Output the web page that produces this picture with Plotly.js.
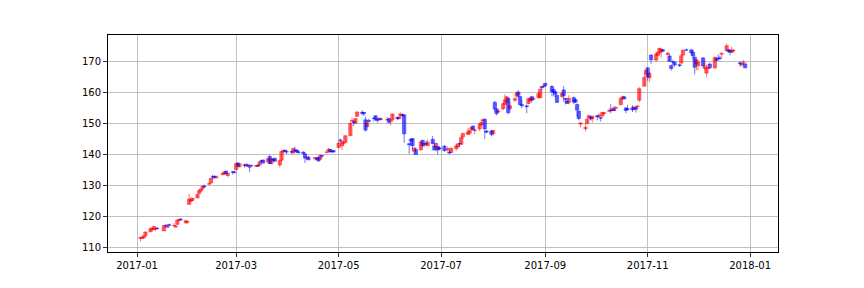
<!DOCTYPE html>
<html><head><meta charset="utf-8">
<script src="https://cdn.plot.ly/plotly-3.0.1.min.js"></script>
<style>html,body{margin:0;padding:0;background:#fff}</style>
</head><body><div id="chart" style="width:864px;height:288px"></div>
<script>
const dates = [
'2017-01-03','2017-01-04','2017-01-05','2017-01-06','2017-01-09','2017-01-10','2017-01-11','2017-01-12','2017-01-13','2017-01-17','2017-01-18','2017-01-19','2017-01-20','2017-01-23','2017-01-24','2017-01-25','2017-01-26','2017-01-27','2017-01-30','2017-01-31',
'2017-02-01','2017-02-02','2017-02-03','2017-02-06','2017-02-07','2017-02-08','2017-02-09','2017-02-10','2017-02-13','2017-02-14','2017-02-15','2017-02-16','2017-02-17','2017-02-21','2017-02-22','2017-02-23','2017-02-24','2017-02-27','2017-02-28',
'2017-03-01','2017-03-02','2017-03-03','2017-03-06','2017-03-07','2017-03-08','2017-03-09','2017-03-10','2017-03-13','2017-03-14','2017-03-15','2017-03-16','2017-03-17','2017-03-20','2017-03-21','2017-03-22','2017-03-23','2017-03-24','2017-03-27','2017-03-28','2017-03-29','2017-03-30','2017-03-31',
'2017-04-03','2017-04-04','2017-04-05','2017-04-06','2017-04-07','2017-04-10','2017-04-11','2017-04-12','2017-04-13','2017-04-17','2017-04-18','2017-04-19','2017-04-20','2017-04-21','2017-04-24','2017-04-25','2017-04-26','2017-04-27','2017-04-28',
'2017-05-01','2017-05-02','2017-05-03','2017-05-04','2017-05-05','2017-05-08','2017-05-09','2017-05-10','2017-05-11','2017-05-12','2017-05-15','2017-05-16','2017-05-17','2017-05-18','2017-05-19','2017-05-22','2017-05-23','2017-05-24','2017-05-25','2017-05-26','2017-05-30','2017-05-31',
'2017-06-01','2017-06-02','2017-06-05','2017-06-06','2017-06-07','2017-06-08','2017-06-09','2017-06-12','2017-06-13','2017-06-14','2017-06-15','2017-06-16','2017-06-19','2017-06-20','2017-06-21','2017-06-22','2017-06-23','2017-06-26','2017-06-27','2017-06-28','2017-06-29','2017-06-30',
'2017-07-03','2017-07-05','2017-07-06','2017-07-07','2017-07-10','2017-07-11','2017-07-12','2017-07-13','2017-07-14','2017-07-17','2017-07-18','2017-07-19','2017-07-20','2017-07-21','2017-07-24','2017-07-25','2017-07-26','2017-07-27','2017-07-28','2017-07-31',
'2017-08-01','2017-08-02','2017-08-03','2017-08-04','2017-08-07','2017-08-08','2017-08-09','2017-08-10','2017-08-11','2017-08-14','2017-08-15','2017-08-16','2017-08-17','2017-08-18','2017-08-21','2017-08-22','2017-08-23','2017-08-24','2017-08-25','2017-08-28','2017-08-29','2017-08-30','2017-08-31',
'2017-09-01','2017-09-05','2017-09-06','2017-09-07','2017-09-08','2017-09-11','2017-09-12','2017-09-13','2017-09-14','2017-09-15','2017-09-18','2017-09-19','2017-09-20','2017-09-21','2017-09-22','2017-09-25','2017-09-26','2017-09-27','2017-09-28','2017-09-29',
'2017-10-02','2017-10-03','2017-10-04','2017-10-05','2017-10-06','2017-10-09','2017-10-10','2017-10-11','2017-10-12','2017-10-13','2017-10-16','2017-10-17','2017-10-18','2017-10-19','2017-10-20','2017-10-23','2017-10-24','2017-10-25','2017-10-26','2017-10-27','2017-10-30','2017-10-31',
'2017-11-01','2017-11-02','2017-11-03','2017-11-06','2017-11-07','2017-11-08','2017-11-09','2017-11-10','2017-11-13','2017-11-14','2017-11-15','2017-11-16','2017-11-17','2017-11-20','2017-11-21','2017-11-22','2017-11-24','2017-11-27','2017-11-28','2017-11-29','2017-11-30',
'2017-12-01','2017-12-04','2017-12-05','2017-12-06','2017-12-07','2017-12-08','2017-12-11','2017-12-12','2017-12-13','2017-12-14','2017-12-15','2017-12-18','2017-12-19','2017-12-20','2017-12-21','2017-12-22','2017-12-26','2017-12-27','2017-12-28','2017-12-29'
];
const openP = [
113.1,113.1,113.2,114.0,115.2,116.0,115.9,116.1,116.3,115.5,117.2,116.6,117.6,117.15,116.7,117.6,118.8,119.3,118.1,118.3,
124.0,125.0,125.3,126.1,127.5,128.3,129.1,129.9,130.5,130.9,132.9,133.0,132.5,133.6,133.8,134.7,133.3,134.5,134.4,
135.2,137.3,136.1,136.7,136.4,136.7,136.05,136.6,136.2,136.6,136.7,138.0,138.3,137.7,139.4,137.1,138.5,138.8,136.7,138.2,140.9,141.4,140.95,
140.92,140.5,141.4,141.5,140.9,140.8,140.2,138.9,139.2,138.7,138.7,139.1,138.5,139.7,140.7,141.1,141.7,141.1,141.3,
142.3,144.7,142.8,143.65,143.9,146.1,150.9,150.6,150.1,152.3,153.6,153.6,151.2,149.0,151.0,151.65,152.5,151.5,151.4,151.6,151.1,151.6,
150.8,151.2,152.0,151.5,152.6,152.9,152.8,143.5,144.9,145.2,141.1,141.6,141.5,144.6,143.3,143.5,142.9,144.9,142.8,142.3,142.5,142.2,
142.7,141.5,140.8,140.7,141.9,142.5,143.6,143.3,145.7,146.5,146.9,148.2,149.2,147.7,148.3,149.5,151.0,151.4,147.6,147.6,
146.8,156.8,154.6,153.7,154.7,156.2,156.8,158.1,154.8,157.5,158.8,160.1,158.7,156.1,155.7,156.4,157.3,158.6,157.8,158.3,158.3,161.9,161.8,
162.9,161.9,160.9,160.2,159.0,158.7,160.8,158.1,157.2,156.7,158.3,157.7,156.1,154.0,149.8,148.3,150.0,152.0,152.1,151.5,
152.5,152.3,151.9,152.4,153.2,154.0,154.3,154.2,154.6,154.9,156.1,158.0,158.6,155.0,154.8,155.1,154.5,155.1,155.4,157.5,162.0,166.0,
167.9,164.7,172.0,170.4,171.9,172.7,173.1,173.7,172.1,171.7,168.6,169.85,169.7,168.9,169.4,172.0,173.7,173.7,172.9,171.3,169.1,
168.6,171.1,167.7,166.2,167.7,169.1,167.9,170.8,171.1,171.0,172.3,173.5,173.6,173.5,172.8,173.3,169.5,168.8,169.6,169.2
];
const highP = [
113.6,113.8,114.1,115.4,116.6,116.6,117.1,116.5,116.8,117.4,117.7,117.3,117.6,118.0,117.3,119.2,119.5,119.5,118.8,118.5,
127.4,126.3,126.1,127.4,129.0,129.1,129.9,130.4,131.2,132.5,133.6,133.3,133.2,134.1,134.5,134.8,134.0,134.8,134.8,
137.4,137.6,137.1,137.1,137.3,137.1,136.1,136.7,136.7,136.9,138.0,138.3,138.3,138.8,140.0,138.9,138.8,139.0,138.5,141.2,141.7,141.7,141.5,
141.3,142.1,142.6,141.7,141.4,141.1,140.6,139.4,139.6,139.1,139.3,139.2,140.1,139.9,141.2,142.1,141.8,141.4,141.5,
144.3,145.2,144.6,144.3,146.1,150.7,151.9,151.0,151.7,154.0,154.3,153.7,152.2,151.0,151.6,152.2,152.5,151.8,152.0,151.9,152.1,151.8,
151.0,153.1,152.1,153.4,153.6,153.2,152.8,143.9,145.2,145.2,142.3,142.3,144.5,144.6,143.8,144.5,144.9,146.0,143.9,143.9,142.9,142.7,
143.1,142.6,141.3,142.5,143.7,143.6,143.9,146.2,147.0,148.6,147.8,149.1,149.4,148.1,150.1,151.5,151.6,151.6,147.9,148.0,
147.9,157.3,154.8,155.0,156.5,159.4,158.8,158.2,156.8,158.4,160.4,160.7,158.9,157.7,156.1,158.2,158.6,158.9,158.7,160.2,161.3,162.0,162.6,
163.1,162.4,161.1,160.4,159.3,160.2,162.1,158.1,157.6,159.1,158.7,157.9,156.5,154.0,150.5,150.1,152.2,153.0,152.5,152.4,
152.7,153.3,152.1,153.7,153.7,154.9,156.2,155.2,155.6,155.5,158.2,159.0,158.9,155.3,156.0,155.9,155.6,155.8,156.0,161.7,166.2,167.7,
168.0,166.6,172.3,173.0,173.2,174.2,174.1,174.0,173.1,172.1,169.0,170.5,170.0,169.2,172.3,173.6,174.1,173.7,173.5,171.6,170.8,
170.3,171.3,170.2,168.9,169.1,169.6,171.5,171.0,172.2,171.8,172.8,175.8,174.0,174.0,174.6,174.0,170.1,169.4,170.5,169.2
];
const lowP = [
112.1,113.0,113.1,113.7,115.2,115.5,115.8,115.4,116.0,115.4,116.9,116.6,116.9,116.9,116.7,117.4,118.7,118.7,117.8,117.8,
124.0,124.8,125.1,125.9,127.4,128.1,128.6,129.5,130.2,130.7,132.0,132.2,132.5,133.3,133.5,133.7,132.7,133.6,134.0,
134.9,136.1,135.9,135.9,136.1,136.1,134.4,136.0,136.1,136.1,136.3,137.5,137.2,137.5,137.0,137.0,137.9,137.6,135.9,137.9,140.4,140.7,140.2,
140.3,140.4,141.0,140.7,140.5,140.1,137.3,138.3,138.3,138.1,138.4,137.7,138.4,139.1,140.4,141.1,140.6,140.5,140.5,
142.1,144.0,141.5,143.0,143.9,146.1,150.5,149.2,150.0,152.3,152.7,152.4,147.4,148.8,150.3,150.6,151.0,150.3,150.7,151.0,151.0,150.0,
149.4,150.6,151.1,151.4,152.1,152.0,143.8,140.3,142.9,141.6,140.0,140.0,141.5,142.7,142.4,142.9,142.9,143.2,141.4,141.0,140.1,141.6,
140.9,140.5,140.2,140.7,141.2,142.2,142.6,143.2,145.1,146.3,146.4,147.7,147.9,146.6,147.6,149.5,150.7,145.0,146.9,145.9,
146.1,153.8,152.6,153.3,154.3,155.9,156.7,152.9,154.3,156.9,158.3,158.3,156.0,154.9,153.3,156.2,157.1,156.7,157.5,158.1,158.2,160.8,161.6,
161.8,158.7,158.7,158.5,156.7,158.1,157.0,156.1,156.3,156.2,156.2,156.6,152.1,151.0,148.8,147.5,150.0,151.8,151.0,150.3,
151.0,152.2,150.7,152.3,152.8,153.7,153.3,154.0,154.0,154.6,155.9,157.4,157.8,153.3,154.2,153.7,154.4,153.5,155.0,156.9,161.9,165.0,
163.7,163.4,169.2,169.8,171.6,172.3,171.2,172.9,172.0,169.8,167.0,169.0,168.3,168.2,169.4,171.7,173.3,172.0,170.5,165.8,167.1,
167.2,168.3,167.1,165.1,167.6,167.5,167.5,170.1,170.6,170.3,171.1,173.5,172.7,171.9,172.7,173.1,168.3,168.4,169.1,167.9
];
const closeP = [
113.4,113.3,113.9,115.1,116.2,116.3,116.9,116.4,116.2,117.2,117.15,116.9,117.2,117.25,117.1,119.0,119.1,119.1,118.8,118.5,
125.7,125.5,126.0,127.2,128.4,128.9,129.85,129.6,130.7,132.4,132.85,132.7,133.1,134.0,134.5,133.9,134.0,134.3,134.3,
137.1,136.3,137.1,136.6,136.8,136.3,136.0,136.4,136.5,136.3,137.7,137.95,137.3,138.7,137.1,138.7,138.2,137.9,138.1,141.0,141.3,141.1,140.85,
140.9,142.0,141.2,140.9,140.6,140.4,138.9,139.1,138.3,139.1,138.5,138.0,139.7,139.5,140.9,141.7,140.9,141.0,140.9,
143.7,144.6,144.2,143.7,146.1,150.0,151.0,150.3,151.6,153.7,153.3,153.1,147.9,150.2,150.7,151.6,151.4,151.0,151.5,151.3,151.3,150.4,
150.85,153.1,151.6,152.1,153.0,152.6,146.7,143.2,144.4,142.9,142.1,140.1,144.1,142.8,143.6,143.4,144.0,143.6,141.5,143.6,141.5,141.8,
141.3,141.9,140.5,142.0,142.8,143.3,143.5,145.5,146.8,147.3,147.8,148.7,148.0,148.0,149.8,150.4,151.1,148.3,147.2,146.5,
147.8,154.7,153.2,154.0,156.4,157.6,158.6,153.5,155.7,158.0,159.8,159.1,156.1,155.7,155.4,158.0,158.2,157.5,158.0,159.6,161.0,161.5,162.1,
162.2,160.2,160.1,159.4,156.8,159.7,159.0,157.8,156.5,158.1,156.9,156.9,154.3,151.6,150.2,148.8,151.4,152.5,151.5,152.4,
152.1,152.7,151.7,153.6,153.5,154.1,154.1,154.8,154.2,155.2,158.1,158.6,157.9,154.2,154.5,154.4,155.3,154.6,155.6,161.2,164.8,167.1,
165.0,166.2,170.5,172.3,172.8,174.2,173.9,173.3,172.6,170.0,167.7,169.75,168.8,168.6,171.8,173.6,173.6,172.7,171.7,168.1,170.5,
169.7,168.5,168.3,167.7,168.0,168.0,171.3,170.3,170.9,170.9,172.6,175.0,173.2,173.0,173.6,173.6,169.2,169.3,169.7,167.9
];
const yTickVals = [110,120,130,140,150,160,170];
const xTickVals = ['2017-01-01','2017-03-01','2017-05-01','2017-07-01','2017-09-01','2017-11-01','2018-01-01'];
const xTickText = ['2017-01','2017-03','2017-05','2017-07','2017-09','2017-11','2018-01'];

const UPC = 'rgba(255,0,0,0.55)';
const DNC = 'rgba(0,0,255,0.55)';
const DAY = 86400000;

function series(up) {
  const bx = [], base = [], hgt = [], wx = [], wy = [];
  for (let i = 0; i < dates.length; i++) {
    const isUp = closeP[i] >= openP[i];
    if (isUp !== up) continue;
    bx.push(dates[i]);
    base.push(Math.min(openP[i], closeP[i]));
    hgt.push(Math.abs(closeP[i] - openP[i]));
    wx.push(dates[i], dates[i], null);
    wy.push(lowP[i], highP[i], null);
  }
  const col = up ? UPC : DNC;
  return [
    {type: 'bar', x: bx, y: hgt, base: base, width: 2.0 * DAY,
     marker: {color: col, line: {color: col, width: 0.8}}, hoverinfo: 'skip', showlegend: false},
    {type: 'scatter', mode: 'lines', x: wx, y: wy,
     line: {color: col, width: 1}, hoverinfo: 'skip', showlegend: false, connectgaps: false}
  ];
}

const traces = [...series(true), ...series(false)];

const axisCommon = {
  showgrid: true, gridcolor: '#b0b0b0', gridwidth: 0.8,
  showline: true, linecolor: '#000', linewidth: 1, mirror: true,
  ticks: 'outside', ticklen: 4, tickwidth: 0.8, tickcolor: '#000',
  zeroline: false, automargin: false,
  tickfont: {family: 'DejaVu Sans', size: 10, color: '#000'}
};

const layout = {
  width: 864, height: 288,
  margin: {l: 108, r: 86, t: 35, b: 36},
  paper_bgcolor: '#fff', plot_bgcolor: '#fff',
  barmode: 'overlay',
  showlegend: false,
  xaxis: Object.assign({}, axisCommon, {
    type: 'date', range: ['2016-12-14 17:00', '2018-01-17 14:00'],
    tickmode: 'array', tickvals: xTickVals, ticktext: xTickText
  }),
  yaxis: Object.assign({}, axisCommon, {
    range: [108.71, 178.46], tickmode: 'array', tickvals: yTickVals,
    ticktext: yTickVals.map(String)
  })
};

Plotly.newPlot('chart', traces, layout, {staticPlot: true, displayModeBar: false});
</script>
</body></html>
